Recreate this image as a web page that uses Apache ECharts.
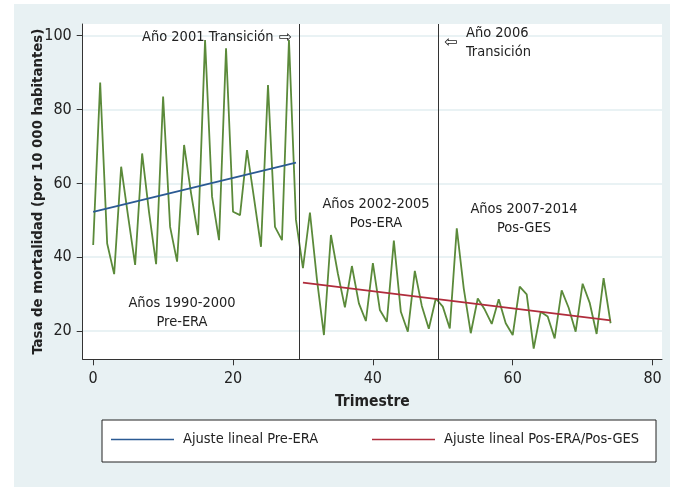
<!DOCTYPE html>
<html>
<head>
<meta charset="utf-8">
<script src="https://cdn.jsdelivr.net/npm/echarts@6/dist/echarts.min.js"></script>
<style>html,body{margin:0;padding:0;background:#fff}#c{width:683px;height:489px}</style>
</head>
<body>
<div id="c"></div>
<script>
// Tasa de mortalidad por trimestre (índice 0..74)
const mortalidad = [
  43.3, 87.3, 43.7, 35.4, 64.5, 51.0, 37.9, 68.1, 52.0, 38.1,
  83.5, 48.2, 38.8, 70.4, 57.3, 46.0, 98.8, 56.4, 44.6, 96.6,
  52.3, 51.4, 69.0, 56.0, 42.8, 86.6, 48.2, 44.6, 98.8, 50.1,
  37.0, 52.1, 34.0, 18.9, 46.0, 35.5, 26.4, 37.6, 27.5, 22.7,
  38.4, 25.7, 22.5, 44.5, 25.2, 19.8, 36.3, 26.8, 20.6, 28.8,
  26.6, 20.7, 47.8, 31.5, 19.4, 28.8, 25.8, 21.9, 28.6, 22.1,
  18.9, 32.0, 29.9, 15.2, 25.2, 23.9, 18.0, 31.0, 26.3, 19.8,
  32.8, 27.7, 19.2, 34.3, 22.1
];
const ajustePreX = [0, 29];
const ajustePreY = [52.3, 65.6];
const ajustePosX = [30, 74];
const ajustePosY = [33.1, 22.9];
const transiciones = [29.5, 49.3];
const xTicks = [0, 20, 40, 60, 80];
const yTicks = [20, 40, 60, 80, 100];
const nombrePre = 'Ajuste lineal Pre-ERA';
const nombrePos = 'Ajuste lineal Pos-ERA/Pos-GES';

const FONT = "'Liberation Sans Narrow', 'DejaVu Sans Condensed', 'Liberation Sans', sans-serif";
const serie = mortalidad.map((v, i) => [i, v]);
const pre = ajustePreX.map((x, i) => [x, ajustePreY[i]]);
const pos = ajustePosX.map((x, i) => [x, ajustePosY[i]]);

const chart = echarts.init(document.getElementById('c'), null, {renderer: 'canvas'});
const ANN = 14.5;
const txt = (x, y, text, align) => ({
  type: 'text', x: x, y: y, z: 50,
  style: {text: text, fill: '#222', font: ANN + 'px ' + FONT, align: align, verticalAlign: 'middle'}
});
const legendBase = {
  top: 432, icon: 'rect', itemWidth: 63, itemHeight: 1.6, padding: 0,
  textStyle: {fontFamily: FONT, fontSize: 14.5, color: '#222', padding: [0, 0, 0, 4]}
};
chart.setOption({
  backgroundColor: '#ffffff',
  animation: false,
  grid: {left: 82.7, right: 21, top: 24, bottom: 129.7, show: true, backgroundColor: '#ffffff', borderWidth: 0},
  xAxis: {
    type: 'value', min: -1.5, max: 81.35,
    name: 'Trimestre', nameLocation: 'middle', nameGap: 35, nameMoveOverlap: false,
    nameTextStyle: {fontFamily: FONT, fontWeight: 'bold', fontSize: 15.5, color: '#222'},
    axisLine: {show: true, onZero: false, lineStyle: {color: '#333', width: 1}},
    axisTick: {show: true, length: 6, lineStyle: {color: '#333'}, customValues: xTicks},
    axisLabel: {fontFamily: FONT, fontSize: 16, color: '#222', margin: 12, customValues: xTicks},
    splitLine: {show: false}
  },
  yAxis: {
    type: 'value', min: 12.33, max: 103.17,
    name: 'Tasa de mortalidad (por 10 000 habitantes)', nameLocation: 'middle', nameGap: 37,
    nameRotate: 90, nameMoveOverlap: false,
    nameTextStyle: {fontFamily: FONT, fontWeight: 'bold', fontSize: 14.8, color: '#222'},
    axisLine: {show: true, onZero: false, lineStyle: {color: '#333', width: 1}},
    axisTick: {show: true, length: 6, lineStyle: {color: '#333'}, customValues: yTicks},
    axisLabel: {fontFamily: FONT, fontSize: 16, color: '#222', margin: 11, customValues: yTicks},
    splitLine: {show: true, lineStyle: {color: '#e2eef1', width: 1.5}}
  },
  legend: [
    Object.assign({data: [nombrePre], left: 111}, legendBase),
    Object.assign({data: [nombrePos], left: 372}, legendBase)
  ],
  graphic: [
    {type: 'rect', z: -100, shape: {x: 14, y: 4, width: 656, height: 483}, style: {fill: '#e8f1f3'}},
    {type: 'rect', z: 2, shape: {x: 102, y: 420, width: 554, height: 42}, style: {fill: '#fff', stroke: '#222', lineWidth: 1}},
    txt(142, 37, 'Año 2001 Transición', 'left'),
    {type: 'text', x: 279, y: 38, z: 50, style: {text: '⇨', fill: '#222', font: '16px DejaVu Sans', align: 'left', verticalAlign: 'middle'}},
    {type: 'text', x: 444, y: 43, z: 50, style: {text: '⇦', fill: '#222', font: '16px DejaVu Sans', align: 'left', verticalAlign: 'middle'}},
    txt(466, 33.5, 'Año 2006', 'left'),
    txt(466, 52.5, 'Transición', 'left'),
    txt(182, 303.5, 'Años 1990-2000', 'center'),
    txt(182, 322.5, 'Pre-ERA', 'center'),
    txt(376, 204.5, 'Años 2002-2005', 'center'),
    txt(376, 223.5, 'Pos-ERA', 'center'),
    txt(524, 209.5, 'Años 2007-2014', 'center'),
    txt(524, 228.5, 'Pos-GES', 'center')
  ],
  series: [
    {
      name: 'Tasa', type: 'line', data: serie, symbol: 'none', z: 3,
      lineStyle: {color: '#5b8a3a', width: 1.8}, itemStyle: {color: '#5b8a3a'},
      markLine: {
        silent: true, symbol: 'none', label: {show: false},
        lineStyle: {color: '#333', width: 1, type: 'solid'},
        data: transiciones.map(x => ({xAxis: x}))
      }
    },
    {name: nombrePre, type: 'line', data: pre, symbol: 'none', z: 4,
      lineStyle: {color: '#2b5a93', width: 1.8}, itemStyle: {color: '#2b5a93'}},
    {name: nombrePos, type: 'line', data: pos, symbol: 'none', z: 4,
      lineStyle: {color: '#b02d3c', width: 1.8}, itemStyle: {color: '#b02d3c'}}
  ]
});
</script>
</body>
</html>
